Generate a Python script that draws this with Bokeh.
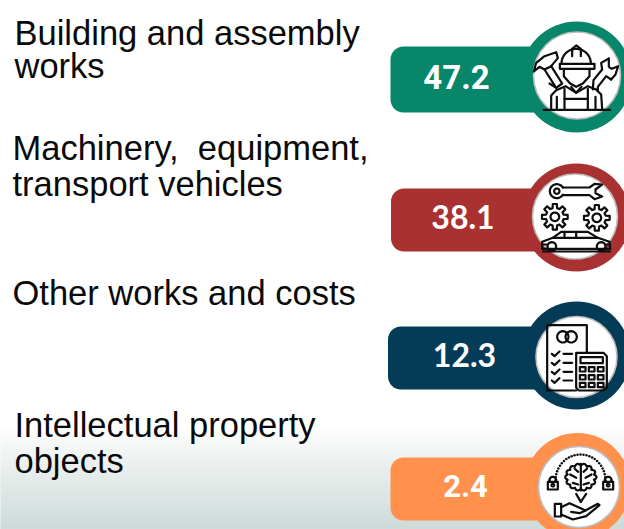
import math
from bokeh.plotting import figure
from bokeh.embed import file_html
from bokeh.resources import INLINE
from bokeh.core.properties import value as fv

# ---- data ----
categories = [["Building and assembly", "works"],
              ["Machinery,\u00a0 equipment,", "transport vehicles"],
              ["Other works and costs"],
              ["Intellectual property", "objects"]]
values = [47.2, 38.1, 12.3, 2.4]
colors = ["#07866A", "#A93131", "#043C58", "#FF914D"]

# ---- layout (page pixels) ----
label_x = [15, 13, 13, 15]
label_y = [[33, 66], [148, 184], [293], [425, 461]]
bar_left = [391, 391.5, 388.5, 391]
bar_top = [47, 189, 327, 458]
bar_bottom = [113, 252, 390, 521]
ring_x = [577, 577, 577, 578]
ring_y = [77.5, 218, 356, 486.5]
ring_r = [55.5, 54, 54, 53]
disc_x = [577.5, 575.5, 577, 579.5]
disc_y = [76, 217, 357.5, 487.5]
disc_r = [43.5, 42.5, 40.5, 40.5]
num_x = [457, 463.5, 465, 466]
num_y = [77, 217, 355, 486]
num_font = ["Roboto", "Lato", "Lato", "Roboto"]
num_size = ["33px", "32px", "32px", "31px"]

p = figure(width=624, height=529, x_range=(1, 625), y_range=(530, 1),
           x_axis_type=None, y_axis_type=None, toolbar_location=None,
           output_backend="svg", min_border=0, outline_line_color=None,
           background_fill_color="white", border_fill_color="white")
p.grid.visible = False

# background fade at the bottom of the slide
gt, gb, gc = [], [], []
for i in range(428, 531):
    f = min(1, ((i - 428) / 101) ** 0.9)
    gt.append(i)
    gb.append(i + 1.6)
    gc.append("#%02x%02x%02x" % (int(255 - 49 * f), int(255 - 36 * f), int(255 - 38 * f)))
p.quad(left=0, right=626, top=gt, bottom=gb, fill_color=gc, line_color=None)

# labels
for lines, x, ys in zip(categories, label_x, label_y):
    for t, y in zip(lines, ys):
        p.text([x], [y], text=[t], text_font=fv("Liberation Sans"), text_font_size="34.5px",
               text_color="#0a0a0a", text_baseline="middle", text_align="left")

# bars, rings, discs
for i in range(4):
    p.circle([ring_x[i]], [ring_y[i]], radius=ring_r[i], fill_color=colors[i], line_color=None)
    p.quad(left=[bar_left[i]], right=[ring_x[i] - 20], top=[bar_top[i]], bottom=[bar_bottom[i]],
           fill_color=colors[i], line_color=None, border_radius=13)
    p.circle([disc_x[i]], [disc_y[i]], radius=disc_r[i], fill_color="white",
             line_color="#bdbdbd", line_width=1.6)
    p.text([num_x[i]], [num_y[i]], text=["%.1f" % values[i]], text_font=fv(num_font[i]),
           text_font_size=num_size[i], text_font_style="bold", text_color="white",
           text_align="center", text_baseline="middle")


# ---- icon helpers (shapes in 3x crop coordinates) ----
def arc(cx, cy, rx, a0, a1, ry=None, n=24):
    ry = rx if ry is None else ry
    return [(cx + rx * math.cos(math.radians(a0 + (a1 - a0) * k / n)),
             cy + ry * math.sin(math.radians(a0 + (a1 - a0) * k / n))) for k in range(n + 1)]


def box(x0, y0, x1, y1):
    return [(x0, y0), (x1, y0), (x1, y1), (x0, y1), (x0, y0)]


def gear(cx, cy, ro, ri, teeth=8):
    pts = []
    for k in range(teeth):
        a = 360 * k / teeth
        w = 360 / teeth
        for da, r in ((-0.32, ri), (-0.2, ro), (0.2, ro), (0.32, ri)):
            pts.append((cx + r * math.cos(math.radians(a + da * w)),
                        cy + r * math.sin(math.radians(a + da * w))))
    pts.append(pts[0])
    return pts


def lobes(cx, cy, rx, ry, a0, a1, count=7):
    pts = []
    n = count * 8
    for k in range(n + 1):
        a = a0 + (a1 - a0) * k / n
        bump = 0.88 + 0.14 * abs(math.sin(math.radians(180 * count * k / n)))
        pts.append((cx + rx * bump * math.cos(math.radians(a)),
                    cy + ry * bump * math.sin(math.radians(a))))
    return pts


def draw(shapes, ox, oy, width=2.2):
    xs = [[ox + a / 3 for a, b in s] for s in shapes]
    ys = [[oy + b / 3 for a, b in s] for s in shapes]
    p.multi_line(xs, ys, line_color="#0d0d0d", line_width=width, line_join="round", line_cap="round")


# worker
worker = [
    arc(590, 162, 44, 180, 360),
    box(541, 163, 645, 178),
    [(578, 118), (578, 140)], [(604, 118), (604, 140)], [(578, 118), (590, 108), (604, 118)],
    [(553, 178), (553, 200), (572, 222), (590, 232), (610, 222), (630, 200), (630, 178)],
    [(515, 298), (515, 258), (530, 242), (558, 230), (590, 250), (625, 230), (650, 240), (665, 255), (668, 298)],
    [(575, 232), (590, 250), (606, 232)],
    [(555, 238), (555, 298)], [(625, 238), (625, 298)],
    [(532, 262), (532, 298)], [(648, 262), (648, 298)],
    [(555, 268), (625, 268)],
    [(492, 301), (692, 301)],
    [(463, 186), (470, 160), (495, 140), (530, 128), (535, 146), (515, 170), (495, 180), (480, 172), (463, 186)],
    [(495, 180), (530, 235), (510, 222)], [(515, 170), (548, 222), (530, 235)],
    [(688, 147), (665, 160), (668, 180), (642, 212), (640, 240)],
    [(695, 210), (708, 195), (716, 170), (697, 178), (688, 172), (688, 147)],
    [(695, 210), (680, 200), (655, 232), (655, 245)],
]
draw(worker, 380, 10)

# tools and car
tools = [
    arc(532, 110, 21, 30, 330), arc(532, 110, 8, 0, 360),
    [(550, 99), (630, 99), (645, 88), (668, 90), (648, 105), (648, 116), (668, 126), (645, 134), (630, 122), (550, 122)],
    gear(526, 187, 39, 27), arc(526, 187, 13, 0, 360),
    gear(652, 190, 39, 27), arc(652, 190, 13, 0, 360),
    [(488, 282), (488, 262), (520, 250), (545, 232), (625, 232), (655, 250), (690, 262), (692, 282)],
    [(520, 250), (655, 250)], [(555, 232), (555, 250)], [(590, 232), (590, 250)],
    arc(517, 276, 13, 0, 360), arc(665, 276, 13, 0, 360),
    [(488, 270), (505, 270)], [(678, 270), (692, 270)],
    [(488, 283), (692, 283)], [(490, 291), (692, 291)],
]
draw(tools, 380, 155)

# invoice and calculator
calc = [
    [(590, 288), (503, 288), (503, 92), (622, 92), (622, 175)],
    arc(550, 127, 17, 0, 360), arc(575, 127, 17, 0, 360),
    [(590, 175), (672, 175), (682, 185), (682, 280), (672, 288), (598, 288), (590, 280), (590, 175)],
    box(603, 188, 670, 206),
]
for cy in (178, 205, 232, 258):
    calc.append([(517, cy), (525, cy + 7), (540, cy - 7)])
    calc.append([(552, cy), (578, cy)])
for by in (218, 242, 265):
    for bx in (601, 628, 655):
        calc.append(box(bx, by, bx + 17, by + 13))
draw(calc, 380, 295)

# brain in a hand
brain = [
    arc(520, 167, 10, 180, 360), [(510, 167), (510, 172)], [(530, 167), (530, 172)], box(505, 172, 535, 195),
    arc(686, 167, 10, 180, 360), [(676, 167), (676, 172)], [(696, 167), (696, 172)], box(671, 172, 701, 195),
    arc(520, 182, 4, 0, 360), arc(686, 182, 4, 0, 360),
    lobes(604, 158, 46, 40, 90, 270), lobes(604, 158, 46, 40, -90, 90),
    [(604, 118), (604, 198)],
    [(572, 150), (590, 160)], [(585, 132), (596, 142)], [(636, 150), (618, 160)], [(623, 132), (612, 142)],
    [(580, 175), (596, 180)], [(628, 175), (612, 180)],
    [(590, 208), (604, 232)], [(620, 208), (604, 232)],
    box(526, 238, 545, 276),
    [(545, 248), (570, 236), (600, 250), (618, 258), (600, 266), (575, 262)],
    [(618, 258), (655, 238), (660, 242), (620, 275), (580, 285), (545, 270)],
]
draw(brain, 380, 425)
dots = arc(603, 168, 75, 180, 360, ry=78, n=26)
p.scatter([380 + a / 3 for a, b in dots], [425 + b / 3 for a, b in dots], size=2.5, marker="circle",
          fill_color="#0d0d0d", line_color=None)

open("out.html", "w").write(file_html(p, INLINE))
